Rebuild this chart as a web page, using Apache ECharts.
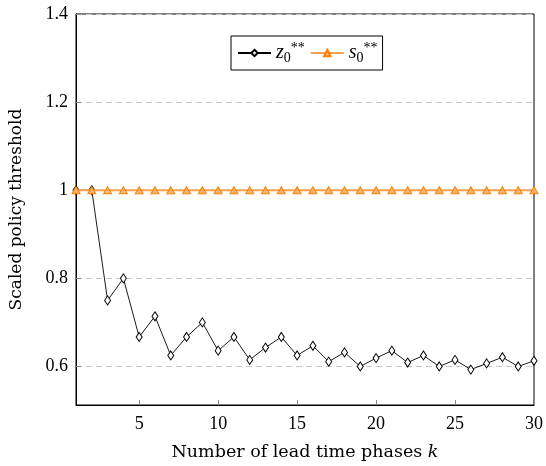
<!DOCTYPE html>
<html><head><meta charset="utf-8">
<script src="https://cdn.jsdelivr.net/npm/echarts@6/dist/echarts.min.js"></script>
<style>html,body{margin:0;padding:0;background:#fff}#c{width:546px;height:466px}</style>
</head><body><div id="c"></div>
<script>
const kValues = [1,2,3,4,5,6,7,8,9,10,11,12,13,14,15,16,17,18,19,20,21,22,23,24,25,26,27,28,29,30];
const zValues = [1,1,0.75,0.8,0.667,0.714,0.625,0.667,0.7,0.636,0.667,0.615,0.643,0.667,0.625,0.647,0.611,0.632,0.6,0.619,0.636,0.609,0.625,0.6,0.615,0.593,0.607,0.621,0.6,0.613];
const sValues = [1,1,1,1,1,1,1,1,1,1,1,1,1,1,1,1,1,1,1,1,1,1,1,1,1,1,1,1,1,1];
const xTicks = [5,10,15,20,25,30];
const yTicks = [0.6,0.8,1,1.2,1.4];

const font = "'Liberation Serif', 'DejaVu Serif', serif";
const font2 = "'DejaVu Serif', serif";
const chart = echarts.init(document.getElementById('c'));
chart.setOption({
  animation: false,
  textStyle: {fontFamily: font},
  grid: {left: 75, top: 14, width: 463, height: 396, show: true, borderColor: '#000', borderWidth: 1, backgroundColor: 'transparent'},
  legend: {
    left: 231, top: 36, orient: 'horizontal',
    backgroundColor: '#fff', borderColor: '#000', borderWidth: 1, borderRadius: 0,
    padding: [5, 5, 5, 6], itemGap: 5, itemWidth: 33, itemHeight: 8,
    data: ['z', 's'],
    formatter: function(name){ return '{i|' + name + '}{sub|0}{sup|**}'; },
    textStyle: {
      fontFamily: font, color: '#000',
      rich: {
        i: {fontFamily: font, fontStyle: 'italic', fontSize: 20, color: '#000', verticalAlign: 'middle', lineHeight: 24},
        sub: {fontFamily: font, fontSize: 14, color: '#000', verticalAlign: 'bottom', lineHeight: 24, padding: [8,0,0,0]},
        sup: {fontFamily: font, fontSize: 14, color: '#000', verticalAlign: 'top', lineHeight: 24, padding: [0,0,10,0]}
      }
    }
  },
  xAxis: {
    type: 'value', min: 1, max: 30,
    name: '{t|Number of lead time phases }{k|k}', nameLocation: 'middle', nameGap: 38,
    nameTextStyle: {rich: {t: {fontFamily: font2, fontSize: 17.5, color: '#000'}, k: {fontFamily: font2, fontSize: 17.5, fontStyle: 'italic', color: '#000'}}},
    axisLine: {show: true, onZero: false, lineStyle: {color: '#000', width: 1}},
    axisTick: {show: true, inside: true, length: 5, customValues: xTicks, lineStyle: {color: '#888'}},
    axisLabel: {customValues: xTicks, fontFamily: font, fontSize: 18, color: '#000', margin: 10},
    splitLine: {show: false}
  },
  yAxis: {
    type: 'value', min: 0.5126, max: 1.4,
    name: 'Scaled policy threshold', nameLocation: 'middle', nameGap: 51,
    nameTextStyle: {fontFamily: font2, fontSize: 17, color: '#000'},
    axisLine: {show: true, onZero: false, lineStyle: {color: '#000', width: 1}},
    axisTick: {show: true, inside: true, length: 5, customValues: yTicks, lineStyle: {color: '#888'}},
    axisLabel: {customValues: yTicks, fontFamily: font, fontSize: 18, color: '#000', margin: 8},
    splitLine: {show: true, lineStyle: {color: '#c8c8c8', type: [6, 4], width: 1}}
  },
  series: [
    {
      name: 'z', type: 'line', data: kValues.map((k, i) => [k, zValues[i]]),
      symbol: 'diamond', symbolSize: [6, 9], showAllSymbol: true,
      lineStyle: {color: '#000', width: 0.9},
      itemStyle: {color: '#fff', borderColor: '#000', borderWidth: 1},
      z: 3
    },
    {
      name: 's', type: 'line', data: kValues.map((k, i) => [k, sValues[i]]),
      symbol: 'triangle', symbolSize: [8, 7], showAllSymbol: true,
      lineStyle: {color: '#f9a04e', width: 2},
      itemStyle: {color: '#fbb474', borderColor: '#ff8000', borderWidth: 1},
      z: 4
    }
  ]
});
</script></body></html>
